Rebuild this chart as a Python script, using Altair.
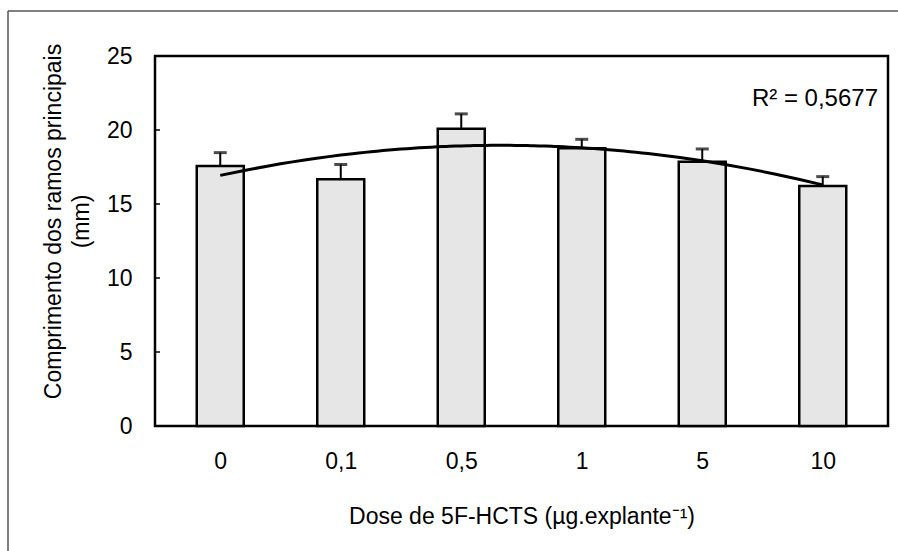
import json
import altair as alt
import pandas as pd

doses = ["0", "0,1", "0,5", "1", "5", "10"]
means = [17.57, 16.67, 20.09, 18.76, 17.86, 16.22]
errors = [0.90, 1.00, 1.00, 0.61, 0.86, 0.63]
y_ticks = [0, 5, 10, 15, 20, 25]
inner_ticks = [5, 10, 15, 20]
r2_text = "R² = 0,5677"
x_title = "Dose de 5F-HCTS (µg.explante⁻¹)"
y_title = ["Comprimento dos ramos principais", "(mm)"]

FONT = "Liberation Sans"
LABEL_SIZE = 23
TITLE_SIZE = 23

df = pd.DataFrame({
    "idx": list(range(1, len(doses) + 1)),
    "dose": doses,
    "value": means,
    "upper": [m + e for m, e in zip(means, errors)],
})
ticks_df = pd.DataFrame({"t": inner_ticks})

label_expr = json.dumps(doses).replace('"', "'") + "[datum.value - 1]"

x_enc = alt.X(
    "idx:Q",
    scale=alt.Scale(domain=[0.5, 6.5], nice=False, zero=False),
    axis=alt.Axis(
        values=list(range(1, len(doses) + 1)),
        labelExpr=label_expr,
        title=x_title,
        labelFontSize=LABEL_SIZE,
        labelFont=FONT,
        labelColor="black",
        labelPadding=24,
        tickSize=0,
        domain=False,
        grid=False,
        titleFontSize=TITLE_SIZE,
        titleFont=FONT,
        titleFontWeight="normal",
        titleColor="black",
        titleY=90,
        titleBaseline="middle",
    ),
)
y_scale = alt.Scale(domain=[0, 25], nice=False)
y_enc = alt.Y(
    "value:Q",
    scale=y_scale,
    axis=alt.Axis(
        values=y_ticks,
        labelFontSize=LABEL_SIZE,
        labelFont=FONT,
        labelColor="black",
        labelPadding=23,
        tickSize=0,
        domain=False,
        grid=False,
        title=y_title,
        titleFontSize=TITLE_SIZE,
        titleFont=FONT,
        titleFontWeight="normal",
        titleColor="black",
        titleX=-113,
        titleY=165,
        titleBaseline="top",
        titleLineHeight=28,
        titleAnchor="middle",
    ),
)

base = alt.Chart(df)

bars = base.mark_bar(size=47, fill="#e6e6e6", stroke="black", strokeWidth=2.5).encode(
    x=x_enc, y=y_enc
)
stems = base.mark_rule(color="black", strokeWidth=2).encode(
    x="idx:Q", y=alt.Y("value:Q", scale=y_scale), y2="upper:Q"
)
caps = base.mark_tick(orient="horizontal", size=13, thickness=3, color="black").encode(
    x="idx:Q", y=alt.Y("upper:Q", scale=y_scale)
)
trend = base.transform_regression(
    "idx", "value", method="poly", order=2
).mark_line(color="black", strokeWidth=3).encode(
    x="idx:Q", y=alt.Y("value:Q", scale=y_scale)
)
r2 = alt.Chart(pd.DataFrame({"t": [r2_text]})).mark_text(
    font=FONT, fontSize=24, align="right", baseline="alphabetic", color="black"
).encode(text="t:N", x=alt.value(723), y=alt.value(50))

inner = alt.Chart(ticks_df).mark_rule(color="black", strokeWidth=1.5).encode(
    y=alt.Y("t:Q", scale=y_scale), x=alt.value(0), x2=alt.value(5)
)

frame_left = alt.Chart(pd.DataFrame({"a": [0]})).mark_rule(color="#555555", strokeWidth=1.5).encode(
    x=alt.value(-147), y=alt.value(-45), y2=alt.value(500)
)
frame_top = alt.Chart(pd.DataFrame({"a": [0]})).mark_rule(color="#555555", strokeWidth=1.5).encode(
    x=alt.value(-147), x2=alt.value(750), y=alt.value(-45)
)

chart = alt.layer(bars, stems, caps, trend, r2, inner, frame_left, frame_top).properties(
    width=733,
    height=370,
    autosize=alt.AutoSizeParams(type="none"),
    padding={"left": 155, "top": 56, "right": 10, "bottom": 125},
    background="white",
).configure_view(stroke="black", strokeWidth=2.5)

chart.save("out.html", embed_options={"renderer": "svg", "actions": False})
